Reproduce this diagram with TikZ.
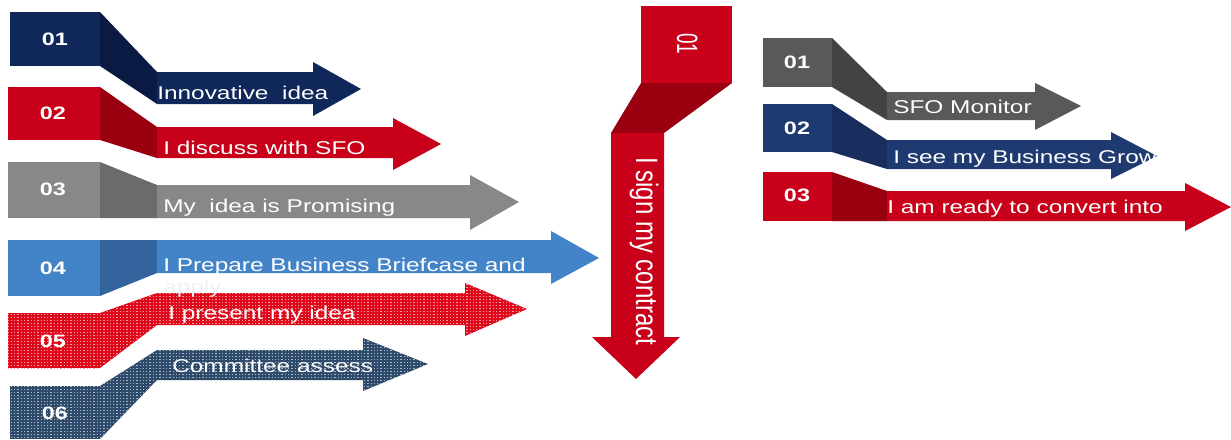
\documentclass[tikz,border=0pt]{standalone}
\usepackage{fontspec}
\setmainfont{Liberation Sans}
\usetikzlibrary{patterns}

% Palette
\definecolor{navyA}{HTML}{10275A}
\definecolor{navyAd}{HTML}{0A1A42}
\definecolor{redA}{HTML}{C8001A}
\definecolor{redAd}{HTML}{9A0010}
\definecolor{grayA}{HTML}{888888}
\definecolor{grayAd}{HTML}{6B6B6B}
\definecolor{blueA}{HTML}{4384C8}
\definecolor{blueAd}{HTML}{33649E}
\definecolor{redB}{HTML}{DE0A1C}
\definecolor{navyB}{HTML}{2E4B6C}
\definecolor{grayB}{HTML}{595959}
\definecolor{grayBd}{HTML}{434343}
\definecolor{navyC}{HTML}{1F3A70}
\definecolor{navyCd}{HTML}{192E5E}

% Square dot texture for the speckled steps
\pgfdeclarepatternformonly{squaredots}{\pgfpoint{-0.1pt}{-0.1pt}}{\pgfpoint{3.4pt}{3.1pt}}{\pgfpoint{3.3pt}{3pt}}{
  \pgfpathrectangle{\pgfpoint{0.9pt}{0.8pt}}{\pgfpoint{1.3pt}{1.2pt}}
  \pgfusepath{fill}
}

\tikzset{
  steplabel/.style={text=white, anchor=base west, inner sep=0pt, xscale=1.32,
    font=\fontsize{18.5}{20}\selectfont},
  numlabel/.style={text=white, inner sep=0pt, xscale=1.3,
    font=\fontsize{18}{20}\selectfont\bfseries},
  dotsred/.style={preaction={fill=redB}, pattern=squaredots, pattern color=redB!40!white},
  dotsnavy/.style={preaction={fill=navyB}, pattern=squaredots, pattern color=navyB!40!white},
}

\begin{document}
\begin{tikzpicture}[x=1pt, y=-1pt]
\useasboundingbox (0,0) rectangle (1231,439);

% ---------- left column ----------
% 01 Innovative idea
\fill[navyA] (10,12) rectangle (100,66);
\fill[navyAd] (100,12) -- (157,72) -- (157,104) -- (100,66) -- cycle;
\fill[navyA] (157,72) -- (313,72) -- (313,62) -- (361,89) -- (313,116) -- (313,104) -- (157,104) -- cycle;
\node[numlabel] (n1) at (55,39) {01};
\node[steplabel] (t1) at (157,99) {Innovative\ \ idea};

% 02 I discuss with SFO
\fill[redA] (8,87) rectangle (100,140);
\fill[redAd] (100,87) -- (157,127) -- (157,158) -- (100,140) -- cycle;
\fill[redA] (157,127) -- (393,127) -- (393,118) -- (441,144) -- (393,170) -- (393,158) -- (157,158) -- cycle;
\node[numlabel] (n2) at (53,113) {02};
\node[steplabel] (t2) at (163,154) {I discuss with SFO};

% 03 My idea is Promising
\fill[grayA] (8,162) rectangle (100,218);
\fill[grayAd] (100,162) -- (157,185) -- (157,218) -- (100,218) -- cycle;
\fill[grayA] (157,185) -- (470,185) -- (470,175) -- (519,202) -- (470,230) -- (470,218) -- (157,218) -- cycle;
\node[numlabel] (n3) at (53,189) {03};
\node[steplabel] (t3) at (163,212) {My\ \ idea is Promising};

% 04 I Prepare Business Briefcase and apply
\fill[blueA] (8,240) rectangle (100,296);
\fill[blueAd] (100,240) -- (157,240) -- (157,273) -- (100,296) -- cycle;
\fill[blueA] (157,240) -- (551,240) -- (551,231) -- (599,258) -- (551,284) -- (551,273) -- (157,273) -- cycle;
\node[numlabel] (n4) at (53,268) {04};

% 05 I present my idea
\path[dotsred] (8,313) rectangle (100,368);
\path[dotsred] (100,313) -- (157,293) -- (157,325) -- (100,368) -- cycle;
\path[dotsred] (157,293) -- (465,293) -- (465,283) -- (527,309) -- (465,336) -- (465,325) -- (157,325) -- cycle;
\node[numlabel] (n5) at (53,341) {05};
\node[steplabel] (t4) at (163,271) {I Prepare Business Briefcase and};
\node[steplabel, text=white!95!black] (t4b) at (163,293) {apply};
\node[steplabel] (t5) at (168,319) {I present my idea};

% 06 Committee assess
\path[dotsnavy] (10,386) rectangle (100,439);
\path[dotsnavy] (100,386) -- (157,350) -- (157,380) -- (100,439) -- cycle;
\path[dotsnavy] (157,350) -- (363,350) -- (363,338) -- (428,364) -- (363,391) -- (363,380) -- (157,380) -- cycle;
\node[numlabel] (n6) at (55,413) {06};
\node[steplabel] (t6) at (172,372) {Committee assess};

% ---------- central step ----------
\fill[redA] (641,6) rectangle (732,83);
\fill[redAd] (641,83) -- (732,83) -- (664,133) -- (611,133) -- cycle;
\fill[redA] (611,133) -- (664,133) -- (664,337) -- (680,337) -- (636,379) -- (592,337) -- (611,337) -- cycle;
\node[text=white, inner sep=0pt, anchor=base west, rotate=-90, yscale=1.55,
  font=\fontsize{19}{20}\selectfont] (c1) at (677,33) {01};
\node[text=white, inner sep=0pt, anchor=base west, rotate=-90, yscale=1.29,
  font=\fontsize{24}{26}\selectfont] (c2) at (636,157) {I sign my contract};

% ---------- right column ----------
% 01 SFO Monitor
\fill[grayB] (763,38) rectangle (832,87);
\fill[grayBd] (832,38) -- (887,92) -- (887,120) -- (832,87) -- cycle;
\fill[grayB] (887,92) -- (1035,92) -- (1035,83) -- (1081,106) -- (1035,130) -- (1035,120) -- (887,120) -- cycle;
\node[numlabel] (r1) at (797,62) {01};
\node[steplabel] (s1) at (893,113) {SFO Monitor};

% 02 I see my Business Grow
\fill[navyC] (763,104) rectangle (832,152);
\fill[navyCd] (832,104) -- (887,140) -- (887,169) -- (832,152) -- cycle;
\fill[navyC] (887,140) -- (1111,140) -- (1111,132) -- (1157,156) -- (1111,179) -- (1111,169) -- (887,169) -- cycle;
\node[numlabel] (r2) at (797,128) {02};
\node[steplabel] (s2) at (893,163) {I see my Business Grow};

% 03 I am ready to convert into
\fill[redA] (763,172) rectangle (832,221);
\fill[redAd] (832,172) -- (887,191) -- (887,221) -- (832,221) -- cycle;
\fill[redA] (887,191) -- (1185,191) -- (1185,183) -- (1231,207) -- (1185,231) -- (1185,221) -- (887,221) -- cycle;
\node[numlabel] (r3) at (797,195) {03};
\node[steplabel] (s3) at (887,213) {I am ready to convert into};
\end{tikzpicture}
\end{document}
